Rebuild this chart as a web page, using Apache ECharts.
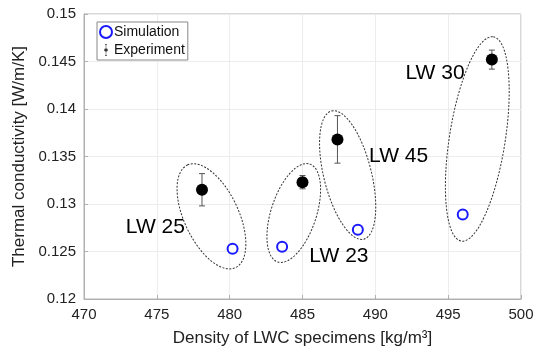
<!DOCTYPE html>
<html lang="en">
<head>
    <meta charset="UTF-8">
    <title>Thermal conductivity vs density</title>
    <script src="https://cdn.jsdelivr.net/npm/echarts@6/dist/echarts.min.js"></script>
    <style>
        html, body { margin: 0; padding: 0; background: #fff; }
    </style>
</head>
<body>
    <div id="chart" style="width: 540px;height: 352px;"></div>
</body>
<script type="text/javascript">
    // simulated values (density, conductivity)
    var simDensity = [480.2, 483.6, 488.8, 496.0];
    var simValue = [0.1253, 0.1255, 0.1273, 0.1289];

    // experiment values with error bars
    var expDensity = [478.1, 485.0, 487.4, 498.0];
    var expValue = [0.1315, 0.1323, 0.1368, 0.1452];
    var expError = [0.0017, 0.0007, 0.0025, 0.0010];

    // group labels and where they sit (data units)
    var groupNames = ['LW 25', 'LW 23', 'LW 45', 'LW 30'];
    var labelDensity = [474.9, 487.5, 491.6, 494.1];
    var labelValue = [0.1276, 0.1245, 0.1350, 0.1438];

    // ellipse major axis ends (data units) and minor/major ratio
    var ellTop = [[477.1, 0.1341], [485.5, 0.1342], [487.0, 0.1398], [498.1, 0.1476]];
    var ellBottom = [[480.4, 0.1233], [483.3, 0.1239], [489.2, 0.1263], [495.9, 0.1261]];
    var ellRatio = [0.48, 0.44, 0.36, 0.27];

    var fontName = 'Liberation Sans, Arial, sans-serif';
    var chart = echarts.init(document.getElementById('chart'));

    var simData = simDensity.map(function (d, i) { return [d, simValue[i]]; });
    var expData = expDensity.map(function (d, i) { return [d, expValue[i]]; });
    var errData = expDensity.map(function (d, i) {
        return [d, expValue[i] - expError[i], expValue[i] + expError[i]];
    });
    var labelData = groupNames.map(function (n, i) {
        return { name: n, value: [labelDensity[i], labelValue[i]] };
    });
    var ellData = ellTop.map(function (t, i) {
        return [t[0], t[1], ellBottom[i][0], ellBottom[i][1], ellRatio[i]];
    });

    var option = {
        animation: false,
        grid: {
            left: 84, right: 19, top: 14, bottom: 51,
            show: true, borderColor: '#b0b0b0', borderWidth: 1
        },
        legend: {
            left: 97, top: 22,
            orient: 'vertical',
            itemGap: 4,
            itemWidth: 12, itemHeight: 12,
            padding: [3, 3, 3, 2],
            borderColor: '#888', borderWidth: 1,
            backgroundColor: '#fff',
            textStyle: { fontFamily: fontName, fontSize: 14, color: '#111', padding: [0, 0, 0, -3] },
            data: [
                { name: 'Simulation', icon: 'emptyCircle' },
                { name: 'Experiment', icon: 'path://M4,0h2v0.6h-2z M4.8,0.6h0.4v10.8h-0.4z M4,11.4h2v0.6h-2z M5,4.3a1.7,1.7 0 1,0 0.01,0z' }
            ]
        },
        xAxis: {
            type: 'value',
            min: 470, max: 500, interval: 5,
            name: 'Density of LWC specimens [kg/m³]',
            nameLocation: 'middle',
            nameGap: 31,
            nameTextStyle: { fontFamily: fontName, fontSize: 17, color: '#222' },
            axisLine: { show: true, lineStyle: { color: '#b0b0b0' } },
            axisTick: { show: true, inside: true, length: 4, lineStyle: { color: '#b0b0b0' } },
            axisLabel: { fontFamily: fontName, fontSize: 15, color: '#222', margin: 8 },
            splitLine: { show: true, lineStyle: { color: '#ececec' } }
        },
        yAxis: {
            type: 'value',
            min: 0.12, max: 0.15, interval: 0.005,
            name: 'Thermal conductivity [W/m/K]',
            nameLocation: 'middle',
            nameGap: 43,
            nameTextStyle: { fontFamily: fontName, fontSize: 17, color: '#222' },
            axisLine: { show: true, lineStyle: { color: '#b0b0b0' } },
            axisTick: { show: true, inside: true, length: 4, lineStyle: { color: '#b0b0b0' } },
            axisLabel: { fontFamily: fontName, fontSize: 15, color: '#222', margin: 8 },
            splitLine: { show: true, lineStyle: { color: '#ececec' } }
        },
        series: [
            {
                type: 'custom',
                name: 'groups',
                silent: true,
                renderItem: function (params, api) {
                    var p1 = api.coord([api.value(0), api.value(1)]);
                    var p2 = api.coord([api.value(2), api.value(3)]);
                    var dx = p2[0] - p1[0], dy = p2[1] - p1[1];
                    var a = Math.sqrt(dx * dx + dy * dy) / 2;
                    return {
                        type: 'ellipse',
                        x: (p1[0] + p2[0]) / 2,
                        y: (p1[1] + p2[1]) / 2,
                        rotation: -Math.atan2(dy, dx),
                        shape: { cx: 0, cy: 0, rx: a, ry: a * api.value(4) },
                        style: { fill: 'none', stroke: '#333', lineWidth: 1, lineDash: [2, 1.5] }
                    };
                },
                data: ellData,
                z: 1
            },
            {
                type: 'custom',
                name: 'errors',
                silent: true,
                renderItem: function (params, api) {
                    var lo = api.coord([api.value(0), api.value(1)]);
                    var hi = api.coord([api.value(0), api.value(2)]);
                    var w = 3;
                    var st = { stroke: '#555', lineWidth: 1 };
                    return {
                        type: 'group',
                        children: [
                            { type: 'line', shape: { x1: lo[0], y1: lo[1], x2: hi[0], y2: hi[1] }, style: st },
                            { type: 'line', shape: { x1: lo[0] - w, y1: lo[1], x2: lo[0] + w, y2: lo[1] }, style: st },
                            { type: 'line', shape: { x1: hi[0] - w, y1: hi[1], x2: hi[0] + w, y2: hi[1] }, style: st }
                        ]
                    };
                },
                data: errData,
                z: 2
            },
            {
                name: 'Simulation',
                type: 'scatter',
                symbol: 'emptyCircle',
                symbolSize: 10,
                itemStyle: { color: '#1a1aff', borderWidth: 2, opacity: 1 },
                data: simData,
                z: 3
            },
            {
                name: 'Experiment',
                type: 'scatter',
                symbol: 'circle',
                symbolSize: 12,
                itemStyle: { color: '#000', opacity: 1 },
                data: expData,
                z: 3
            },
            {
                type: 'scatter',
                name: 'labels',
                symbolSize: 0,
                silent: true,
                itemStyle: { opacity: 1 },
                label: {
                    show: true,
                    position: 'inside',
                    formatter: '{b}',
                    fontFamily: fontName,
                    fontSize: 21,
                    color: '#000'
                },
                data: labelData,
                z: 4
            }
        ]
    };

    chart.setOption(option);
</script>
</html>
